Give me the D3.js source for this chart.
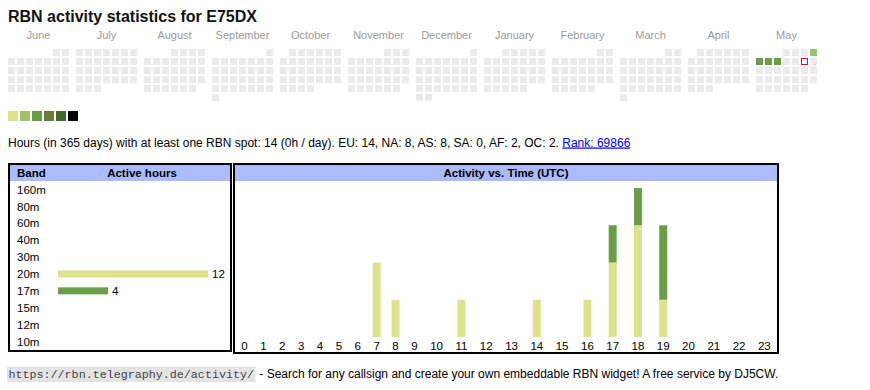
<!DOCTYPE html>
<html>
<head>
<meta charset="utf-8">
<script src="https://cdn.jsdelivr.net/npm/d3@7"></script>
<style>
body { margin: 0; background: #fff; }
svg { display: block; font-family: Arial, "Liberation Sans", sans-serif; }
</style>
</head>
<body>
<svg id="chart" width="870" height="390"></svg>
<script>
// RBN activity widget for E75DX - calendar, band table and hourly histogram

const callsign = 'E75DX'
const monthNames = ['June', 'July', 'August', 'September', 'October', 'November',
  'December', 'January', 'February', 'March', 'April', 'May']
const levelColors = ['#dce38b', '#9dc36a', '#6a9e46', '#6a7e3a', '#3d6a29', '#000000']
const activeDays = ['2025-05-04', '2025-05-05', '2025-05-06', '2025-05-07']
const activeLevels = [1, 2, 2, 2]
const today = '2025-05-10'

const bands = ['160m', '80m', '60m', '40m', '30m', '20m', '17m', '15m', '12m', '10m']
const bandHours = [0, 0, 0, 0, 0, 12, 4, 0, 0, 0]
const bandColors = { '20m': '#dce38b', '17m': '#6a9e46' }

const hourLabels = ['0', '1', '2', '3', '4', '5', '6', '7', '8', '9', '10', '11',
  '12', '13', '14', '15', '16', '17', '18', '19', '20', '21', '22', '23']
const hours20m = [0, 0, 0, 0, 0, 0, 0, 2, 1, 0, 0, 1, 0, 0, 1, 0, 1, 2, 3, 1, 0, 0, 0, 0]
const hours17m = [0, 0, 0, 0, 0, 0, 0, 0, 0, 0, 0, 0, 0, 0, 0, 0, 0, 1, 1, 2, 0, 0, 0, 0]

const summary = 'Hours (in 365 days) with at least one RBN spot: 14 (0h / day). EU: 14, NA: 8, AS: 8, SA: 0, AF: 2, OC: 2. '
const rankText = 'Rank: 69866'
const footerUrl = 'https://rbn.telegraphy.de/activity/'
const footerText = ' - Search for any callsign and create your own embeddable RBN widget! A free service by DJ5CW.'

const svg = d3.select('#chart')

// Title
svg.append('text')
  .attr('x', 8).attr('y', 21.5)
  .attr('font-size', 16).attr('font-weight', 'bold')
  .attr('fill', '#111')
  .text(`RBN activity statistics for ${callsign}`)

// ---- Calendar ----
const start = new Date(2024, 5, 1)
const end = new Date(2025, 5, 1)
const days = d3.timeDay.range(start, end)
const fmt = d3.timeFormat('%Y-%m-%d')
const levelByDay = new Map(activeDays.map((d, i) => [d, activeLevels[i]]))

const monthX = d3.scaleBand().domain(d3.range(12)).range([8, 8 + 12 * 68])
const dayX = d3.scaleBand().domain(d3.range(7)).range([0, 61]).paddingInner(2 / 9)
const weekY = d3.scaleBand().domain(d3.range(6)).range([49, 101]).paddingInner(2 / 9)

svg.append('g').selectAll('text')
  .data(monthNames)
  .join('text')
  .attr('x', (d, i) => monthX(i) + 30.5)
  .attr('y', 39)
  .attr('text-anchor', 'middle')
  .attr('font-size', 11)
  .attr('fill', '#9a9a9a')
  .text(d => d)

svg.append('g').selectAll('rect')
  .data(days)
  .join('rect')
  .attr('x', d => monthX(d3.timeMonth.count(start, d)) + dayX((d.getDay() + 6) % 7) + (fmt(d) === today ? 0.5 : 0))
  .attr('y', d => weekY(d3.timeMonday.count(d3.timeMonth(d), d)) + (fmt(d) === today ? 0.5 : 0))
  .attr('width', d => fmt(d) === today ? 6 : dayX.bandwidth())
  .attr('height', d => fmt(d) === today ? 6 : weekY.bandwidth())
  .attr('fill', d => fmt(d) === today ? '#fff'
    : levelByDay.has(fmt(d)) ? levelColors[levelByDay.get(fmt(d))] : '#ebebeb')
  .attr('stroke', d => fmt(d) === today ? '#ff0000' : 'none')
  .attr('stroke-width', 1)

// legend
svg.append('g').selectAll('rect')
  .data(levelColors)
  .join('rect')
  .attr('x', (d, i) => 8 + i * 12)
  .attr('y', 111)
  .attr('width', 10).attr('height', 10)
  .attr('fill', d => d)

// Summary line
const sum = svg.append('text')
  .attr('x', 8).attr('y', 146.5)
  .attr('font-size', 12)
  .attr('fill', '#000')
  .attr('xml:space', 'preserve')
sum.append('tspan').text(summary)
sum.append('tspan').attr('fill', '#0000ee').attr('text-decoration', 'underline').text(rankText)

// ---- Band table ----
const bandTop = 164, headH = 17
svg.append('rect').attr('x', 10).attr('y', bandTop + 1).attr('width', 220).attr('height', headH - 1).attr('fill', '#aabbff')
svg.append('rect').attr('x', 9).attr('y', bandTop).attr('width', 222).attr('height', 187)
  .attr('fill', 'none').attr('stroke', '#000').attr('stroke-width', 2)
svg.append('text').attr('x', 17).attr('y', 177).attr('font-size', 11.5).attr('font-weight', 'bold').text('Band')
svg.append('text').attr('x', 142).attr('y', 177).attr('font-size', 11.5).attr('font-weight', 'bold')
  .attr('text-anchor', 'middle').text('Active hours')

const bandY = d3.scaleBand().domain(bands).range([181, 350])
const bandX = d3.scaleLinear().domain([0, d3.max(bandHours)]).range([0, 150])

const rows = svg.append('g').selectAll('g')
  .data(bands.map((b, i) => ({ band: b, hours: bandHours[i] })))
  .join('g')
  .attr('transform', d => `translate(0,${bandY(d.band) + bandY.bandwidth() / 2})`)
rows.append('text').attr('x', 17).attr('y', 4.2).attr('font-size', 11.5).text(d => d.band)
rows.filter(d => d.hours > 0).append('rect')
  .attr('x', 58).attr('y', -3.5)
  .attr('width', d => bandX(d.hours)).attr('height', 7)
  .attr('fill', d => bandColors[d.band])
rows.filter(d => d.hours > 0).append('text')
  .attr('x', d => 58 + bandX(d.hours) + 4).attr('y', 4.2)
  .attr('font-size', 11.5).text(d => d.hours)

// ---- Activity vs time ----
const actLeft = 235, actRight = 777
svg.append('rect').attr('x', actLeft).attr('y', bandTop + 1).attr('width', actRight - actLeft).attr('height', headH - 1).attr('fill', '#aabbff')
svg.append('rect').attr('x', 234).attr('y', bandTop).attr('width', 544).attr('height', 189)
  .attr('fill', 'none').attr('stroke', '#000').attr('stroke-width', 2)
svg.append('text').attr('x', (actLeft + actRight) / 2).attr('y', 177)
  .attr('font-size', 11.5).attr('font-weight', 'bold').attr('text-anchor', 'middle')
  .text('Activity vs. Time (UTC)')

// table-like columns: width follows label width
const hourText = svg.append('g').selectAll('text')
  .data(hourLabels)
  .join('text')
  .attr('y', 350)
  .attr('font-size', 11.5)
  .attr('text-anchor', 'middle')
  .text(d => d)
const textW = hourText.nodes().map(n => n.getComputedTextLength())
const pad = ((actRight - actLeft) - d3.sum(textW)) / hourLabels.length
const colW = textW.map(w => w + pad)
const colEnd = d3.cumsum(colW)
const hourX = d3.scaleOrdinal()
  .domain(hourLabels)
  .range(colW.map((w, i) => actLeft + colEnd[i] - w / 2))
hourText.attr('x', d => hourX(d))

const hourData = hourLabels.map((h, i) => ({ hour: h, '20m': hours20m[i], '17m': hours17m[i] }))
const stacked = d3.stack().keys(['20m', '17m'])(hourData)
const yScale = d3.scaleLinear()
  .domain([0, d3.max(hourData, d => d['20m'] + d['17m'])])
  .range([337, 188])

svg.append('g').selectAll('g')
  .data(stacked)
  .join('g')
  .attr('fill', d => bandColors[d.key])
  .selectAll('rect')
  .data(d => d.filter(s => s[1] > s[0]))
  .join('rect')
  .attr('x', d => hourX(d.data.hour) - 4)
  .attr('width', 8)
  .attr('y', d => yScale(d[1]))
  .attr('height', d => yScale(d[0]) - yScale(d[1]))

// ---- Footer ----
const codeBg = svg.append('rect')
  .attr('x', 7).attr('y', 367)
  .attr('height', 15)
  .attr('fill', '#e3e3e3')
const code = svg.append('text')
  .attr('x', 8.5).attr('y', 378)
  .attr('font-family', '"Liberation Mono", "Courier New", monospace')
  .attr('font-size', 11.7)
  .attr('fill', '#444')
  .text(footerUrl)
const cw = code.node().getComputedTextLength()
codeBg.attr('width', cw + 3)
svg.append('text')
  .attr('x', 8.5 + cw + 2).attr('y', 378)
  .attr('font-size', 12)
  .attr('xml:space', 'preserve')
  .text(footerText)
</script>
</body>
</html>
